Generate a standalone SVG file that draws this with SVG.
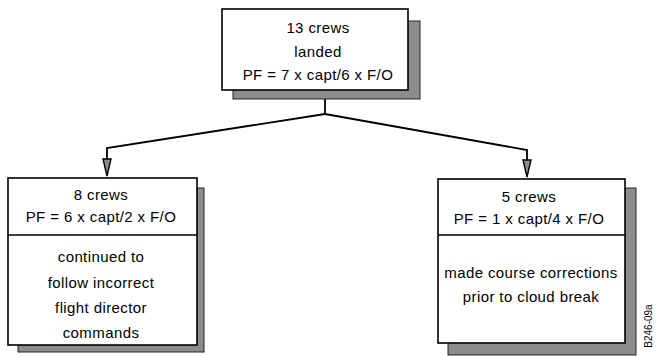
<svg xmlns="http://www.w3.org/2000/svg" width="656" height="356" viewBox="0 0 656 356">
<style>
.box{fill:#fff;stroke:#000;stroke-width:1.6}
.shadow{fill:#8c8c8c;stroke:#222;stroke-width:1}
.div{stroke:#000;stroke-width:1.4}
.t{font-family:"Liberation Sans",Arial,sans-serif;font-size:15px;letter-spacing:0.4px;text-anchor:middle;fill:#000}
.line{fill:none;stroke:#000;stroke-width:1.8}
.arrow{fill:#8c8c8c;stroke:#000;stroke-width:1.4}
</style>
<rect width="656" height="356" fill="#fff"/>
<g id="connectors">
<polyline class="line" points="325,90 325,114"/>
<polyline class="line" points="325,114 107,148 107,162"/>
<polyline class="line" points="325,114 527,150 527,162"/>
<polygon class="arrow" points="103,159 111,159 107,176"/>
<polygon class="arrow" points="523,160 531,160 527,177"/>
</g>
<g id="top">
<rect class="shadow" x="233" y="21" width="187" height="78"/>
<rect class="box" x="222" y="9" width="186" height="81"/>
<text class="t" x="318" y="33">13 crews</text>
<text class="t" x="318" y="57">landed</text>
<text class="t" x="318" y="80">PF = 7 x capt/6 x F/O</text>
</g>
<g id="left">
<rect class="shadow" x="18" y="188" width="186" height="164"/>
<rect class="box" x="8" y="178" width="189" height="167"/>
<line class="div" x1="8" y1="235" x2="197" y2="235"/>
<text class="t" x="101" y="200">8 crews</text>
<text class="t" x="101" y="222">PF = 6 x capt/2 x F/O</text>
<text class="t" x="101" y="262">continued to</text>
<text class="t" x="101" y="288">follow incorrect</text>
<text class="t" x="101" y="313">flight director</text>
<text class="t" x="101" y="338">commands</text>
</g>
<g id="right">
<rect class="shadow" x="448" y="188" width="188" height="167"/>
<rect class="box" x="438" y="179" width="187" height="164"/>
<line class="div" x1="438" y1="235" x2="625" y2="235"/>
<text class="t" x="529" y="202">5 crews</text>
<text class="t" x="529" y="224">PF = 1 x capt/4 x F/O</text>
<text class="t" x="531" y="278">made course corrections</text>
<text class="t" x="531" y="302">prior to cloud break</text>
</g>
<text font-family="'Liberation Sans',Arial,sans-serif" font-size="10" text-anchor="middle" transform="translate(652,326) rotate(-90)">B246-09a</text>
</svg>
